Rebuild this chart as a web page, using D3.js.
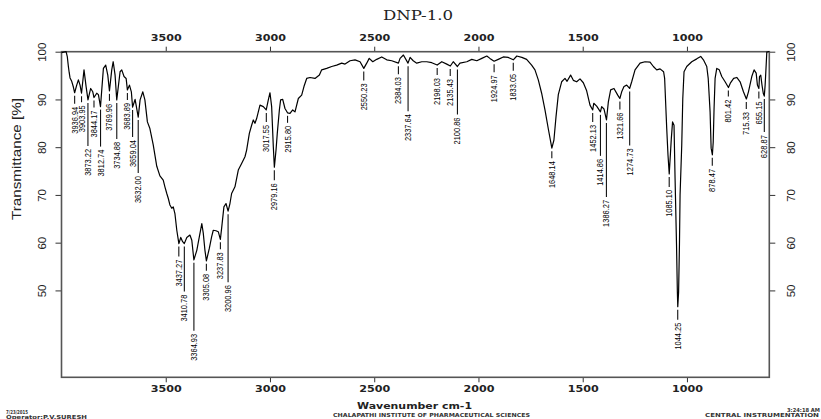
<!DOCTYPE html>
<html>
<head>
<meta charset="utf-8">
<script src="https://cdn.jsdelivr.net/npm/d3@7"></script>
<style>
  body { margin: 0; background: #fff; }
  svg { display: block; }
</style>
</head>
<body>
<svg id="chart" width="821" height="419"></svg>
<script>
// IR spectrum, [wavenumber cm-1, transmittance %]
var spectrum = [
  [4000, 99.8], [3978, 100], [3972, 98.9], [3967, 96.9], [3963, 95.6], [3959, 94.5], [3951, 93.8],
  [3943, 92.6], [3937, 91.4], [3927, 93.0], [3919, 94.1], [3911, 93.0], [3904, 91.3], [3892, 96.2],
  [3882, 92.7], [3873, 89.9], [3860, 92.3], [3850, 91.6], [3844, 90.4], [3831, 91.3], [3823, 91.0],
  [3813, 88.5], [3799, 96.5], [3788, 97.2], [3778, 95.1], [3770, 91.8], [3759, 96.2], [3752, 97.9],
  [3743, 95.1], [3735, 89.9], [3719, 95.8], [3711, 96.2], [3700, 94.8], [3690, 94.4], [3684, 92.0],
  [3674, 93.0], [3665, 91.6], [3659, 88.4], [3647, 90.0], [3632, 86.3], [3623, 89.9], [3610, 91.6],
  [3600, 89.9], [3588, 85.3], [3576, 83.9], [3560, 80.5], [3543, 76.0], [3528, 74.0], [3512, 73.1],
  [3504, 71.7], [3495, 70.3], [3488, 69.3], [3480, 67.9], [3471, 67.2], [3464, 67.5], [3456, 66.1],
  [3447, 62.6], [3437, 59.8], [3428, 61.1], [3419, 60.2], [3411, 59.8], [3399, 61.1], [3384, 61.6],
  [3375, 60.5], [3365, 56.4], [3351, 58.4], [3339, 61.2], [3327, 64.0], [3320, 62.0], [3312, 58.4],
  [3305, 56.2], [3291, 58.8], [3280, 61.2], [3272, 62.6], [3259, 62.5], [3248, 62.3], [3238, 60.7],
  [3232, 63.0], [3221, 67.5], [3211, 68.2], [3201, 66.6], [3192, 68.2], [3184, 70.3], [3168, 71.7],
  [3152, 75.2], [3136, 76.6], [3120, 78.0], [3112, 79.4], [3099, 82.9], [3088, 84.6], [3080, 85.7],
  [3072, 85.0], [3064, 86.0], [3048, 88.8], [3032, 88.5], [3018, 87.8], [3008, 89.9], [3000, 91.4],
  [2992, 88.5], [2984, 80.1], [2979, 75.8], [2971, 79.4], [2965, 82.9], [2955, 87.8], [2949, 89.9],
  [2939, 90.0], [2928, 88.1], [2916, 87.2], [2904, 87.1], [2891, 87.8], [2880, 87.4], [2864, 90.2],
  [2848, 90.9], [2837, 92.7], [2824, 94.4], [2808, 94.6], [2784, 94.4], [2763, 95.1], [2752, 96.2],
  [2728, 96.5], [2704, 96.9], [2680, 97.2], [2656, 97.6], [2640, 97.4], [2616, 98.1], [2592, 98.3],
  [2568, 97.9], [2550, 96.5], [2536, 97.6], [2524, 98.6], [2507, 97.9], [2488, 98.4], [2464, 98.9],
  [2440, 98.3], [2416, 98.1], [2384, 97.6], [2376, 98.6], [2360, 99.3], [2338, 97.6], [2328, 98.8],
  [2313, 98.1], [2296, 97.6], [2272, 97.9], [2248, 97.9], [2224, 97.7], [2198, 97.2], [2176, 97.9],
  [2152, 97.4], [2135, 97.0], [2121, 97.9], [2101, 96.9], [2089, 97.6], [2056, 97.9], [2032, 98.4],
  [2008, 98.1], [1984, 98.6], [1960, 99.1], [1945, 98.6], [1925, 98.0], [1905, 98.4], [1881, 98.9],
  [1857, 98.8], [1833, 98.3], [1816, 99.1], [1792, 98.8], [1769, 98.4], [1745, 97.2], [1729, 96.2],
  [1713, 94.1], [1697, 91.3], [1681, 87.8], [1664, 83.6], [1648, 79.8], [1638, 81.5], [1628, 86.4],
  [1617, 91.0], [1601, 93.7], [1585, 94.4], [1575, 93.8], [1558, 95.1], [1545, 94.0], [1529, 93.7],
  [1513, 94.3], [1497, 93.5], [1481, 91.8], [1465, 88.8], [1452, 87.8], [1447, 89.2], [1433, 88.6],
  [1415, 87.4], [1409, 88.5], [1398, 88.0], [1386, 85.7], [1377, 89.5], [1366, 92.0], [1350, 92.3],
  [1332, 90.9], [1322, 90.2], [1313, 91.6], [1302, 92.7], [1289, 93.0], [1275, 92.3], [1265, 93.7],
  [1249, 96.2], [1225, 97.6], [1201, 97.9], [1177, 97.8], [1161, 96.9], [1145, 96.2], [1129, 96.4],
  [1112, 95.8], [1107, 94.4], [1097, 83.9], [1091, 78.4], [1085, 74.4], [1075, 81.8], [1069, 85.3],
  [1062, 84.6], [1057, 73.5], [1050, 59.5], [1046, 49.7], [1044, 46.6], [1040, 49.7], [1036, 59.5],
  [1033, 70.0], [1025, 80.4], [1020, 90.2], [1014, 95.8], [1001, 96.9], [977, 97.9], [953, 98.5],
  [934, 99.0], [921, 98.3], [905, 96.9], [898, 94.4], [889, 87.4], [884, 79.8], [878, 78.4],
  [874, 81.1], [870, 88.0], [865, 94.4], [857, 96.5], [845, 96.2], [833, 94.8], [817, 93.7],
  [801, 92.5], [792, 93.4], [776, 94.4], [761, 94.6], [745, 93.7], [729, 91.6], [715, 90.1],
  [705, 91.6], [689, 94.8], [678, 96.2], [668, 95.5], [662, 93.0], [655, 92.3], [652, 94.8],
  [646, 95.1], [640, 93.0], [634, 91.3], [629, 90.7], [625, 93.0], [620, 97.2], [617, 99.9],
  [610, 100], [605, 100]
];

var peakWn = [3936.94, 3903.95, 3873.22, 3844.17, 3812.74, 3769.96, 3734.88, 3683.89, 3659.04,
  3632.00, 3437.27, 3410.78, 3364.93, 3305.08, 3237.83, 3200.96, 3017.55, 2979.16, 2915.80,
  2550.23, 2384.03, 2337.64, 2198.03, 2135.43, 2100.86, 1924.97, 1833.05, 1648.14, 1452.13,
  1414.86, 1386.27, 1321.66, 1274.73, 1085.10, 1044.25, 878.47, 801.42, 715.33, 655.15, 628.87];

var xTicks = [3500, 3000, 2500, 2000, 1500, 1000];
var yTicks = [100, 90, 80, 70, 60, 50];

// length of the leader line under each peak label (px)
var leaderLen = [8, 6, 43, 7, 37, 7, 36, 7, 27, 53, 10, 45, 68, 7, 7, 68, 9, 10, 7,
  9, 8, 45, 7, 7, 45, 8, 8, 7, 9, 41, 74, 8, 54, 10, 10, 8, 6, 7, 7, 33];

function drawSpectrum() {
  var svg = d3.select('#chart');
  var plotLeft = 61.5, plotRight = 769.3, plotTop = 51.7, plotBottom = 377.3;

  var x = d3.scaleLinear().domain([4000, 605]).range([plotLeft, plotRight]);
  var y = d3.scaleLinear().domain([31.8, 100]).range([plotBottom, plotTop]);

  var axisFont = 'DejaVu Sans, sans-serif';
  var plainFont = 'Liberation Sans, Arial, sans-serif';

  function styleAxis(g) {
    g.select('.domain').remove();
    g.selectAll('.tick line').attr('stroke', '#333').attr('stroke-width', 1);
    g.selectAll('.tick text').attr('fill', '#222');
  }

  // top and bottom wavenumber axes
  svg.append('g')
    .attr('transform', 'translate(0,' + plotTop + ')')
    .call(d3.axisTop(x).tickValues(xTicks).tickSize(5).tickPadding(6).tickFormat(d3.format('d')))
    .call(styleAxis)
    .selectAll('.tick text')
    .attr('font-family', axisFont).attr('font-weight', 'bold').attr('font-size', 8.5)
    .attr('textLength', 31).attr('lengthAdjust', 'spacingAndGlyphs');

  svg.append('g')
    .attr('transform', 'translate(0,' + plotBottom + ')')
    .call(d3.axisBottom(x).tickValues(xTicks).tickSize(5).tickPadding(4).tickFormat(d3.format('d')))
    .call(styleAxis)
    .selectAll('.tick text')
    .attr('font-family', axisFont).attr('font-weight', 'bold').attr('font-size', 8.5)
    .attr('textLength', 31).attr('lengthAdjust', 'spacingAndGlyphs');

  // left and right transmittance axes, labels turned sideways
  svg.append('g')
    .attr('transform', 'translate(' + plotLeft + ',0)')
    .call(d3.axisLeft(y).tickValues(yTicks).tickSize(6))
    .call(styleAxis)
    .selectAll('.tick text')
    .attr('font-family', plainFont).attr('font-size', 11.5)
    .attr('transform', 'rotate(-90)')
    .attr('text-anchor', 'middle')
    .attr('x', 0).attr('y', -20).attr('dy', '0.35em');

  svg.append('g')
    .attr('transform', 'translate(' + plotRight + ',0)')
    .call(d3.axisRight(y).tickValues(yTicks).tickSize(6))
    .call(styleAxis)
    .selectAll('.tick text')
    .attr('font-family', plainFont).attr('font-size', 11.5)
    .attr('transform', 'rotate(-90)')
    .attr('text-anchor', 'middle')
    .attr('x', 0).attr('y', 22).attr('dy', '0.35em');

  // frame
  svg.append('rect')
    .attr('x', plotLeft).attr('y', plotTop)
    .attr('width', plotRight - plotLeft).attr('height', plotBottom - plotTop)
    .attr('fill', 'none').attr('stroke', '#555').attr('stroke-width', 1.6);

  // spectrum trace
  var line = d3.line()
    .x(function(d) { return x(d[0]); })
    .y(function(d) { return y(d[1]); });

  svg.append('path')
    .datum(spectrum)
    .attr('d', line)
    .attr('fill', 'none')
    .attr('stroke', '#000')
    .attr('stroke-width', 1.2)
    .attr('stroke-linejoin', 'round');

  // peak labels
  function peakTransmittance(wn) {
    var best = spectrum[0];
    spectrum.forEach(function(p) {
      if (Math.abs(p[0] - wn) < Math.abs(best[0] - wn)) best = p;
    });
    return best[1];
  }

  var peaks = peakWn.map(function(wn, i) {
    return { wn: wn, t: peakTransmittance(wn), len: leaderLen[i], label: d3.format('.2f')(wn) };
  });

  var peakG = svg.append('g').selectAll('g')
    .data(peaks)
    .join('g')
    .attr('transform', function(d) {
      return 'translate(' + x(d.wn) + ',' + (y(d.t) + 3) + ')';
    });

  peakG.append('line')
    .attr('x1', 0).attr('x2', 0)
    .attr('y1', 0).attr('y2', function(d) { return d.len; })
    .attr('stroke', '#111').attr('stroke-width', 1.1);

  peakG.append('text')
    .attr('transform', function(d) { return 'translate(0,' + (d.len + 3) + ') rotate(-90)'; })
    .attr('text-anchor', 'end')
    .attr('dy', '0.35em')
    .attr('font-family', plainFont)
    .attr('font-size', 8.6)
    .attr('textLength', function(d) { return d.label.length * 3.85; })
    .attr('lengthAdjust', 'spacingAndGlyphs')
    .attr('fill', '#000')
    .text(function(d) { return d.label; });

  // titles
  svg.append('text')
    .attr('x', 418).attr('y', 20)
    .attr('text-anchor', 'middle')
    .attr('font-family', 'DejaVu Serif, serif')
    .attr('font-size', 12.5)
    .attr('textLength', 70).attr('lengthAdjust', 'spacingAndGlyphs')
    .attr('fill', '#222')
    .text('DNP-1.0');

  svg.append('text')
    .attr('x', 414.5).attr('y', 409)
    .attr('text-anchor', 'middle')
    .attr('font-family', axisFont).attr('font-weight', 'bold')
    .attr('font-size', 9)
    .attr('textLength', 115).attr('lengthAdjust', 'spacingAndGlyphs')
    .attr('fill', '#222')
    .text('Wavenumber cm-1');

  svg.append('text')
    .attr('transform', 'translate(21,159) rotate(-90)')
    .attr('text-anchor', 'middle')
    .attr('font-family', plainFont)
    .attr('font-size', 12)
    .attr('textLength', 122).attr('lengthAdjust', 'spacingAndGlyphs')
    .attr('fill', '#222')
    .text('Transmittance [%]');

  // footer notes
  var footer = [
    { text: '7/23/2015', x: 6, y: 413.5, w: 22 },
    { text: 'Operator:P.V.SURESH', x: 6, y: 419, w: 81 },
    { text: 'CHALAPATHI INSTITUTE OF PHARMACEUTICAL SCIENCES', x: 333, y: 417, w: 197 },
    { text: '3:24:18 AM', x: 787, y: 412, w: 33 },
    { text: 'CENTRAL INSTRUMENTATION', x: 705, y: 416.5, w: 114 }
  ];

  svg.append('g').selectAll('text')
    .data(footer)
    .join('text')
    .attr('x', function(d) { return d.x; })
    .attr('y', function(d) { return d.y; })
    .attr('font-family', axisFont).attr('font-weight', 'bold')
    .attr('font-size', 5.5)
    .attr('textLength', function(d) { return d.w; })
    .attr('lengthAdjust', 'spacingAndGlyphs')
    .attr('fill', '#333')
    .text(function(d) { return d.text; });
}

drawSpectrum();
</script>
</body>
</html>
